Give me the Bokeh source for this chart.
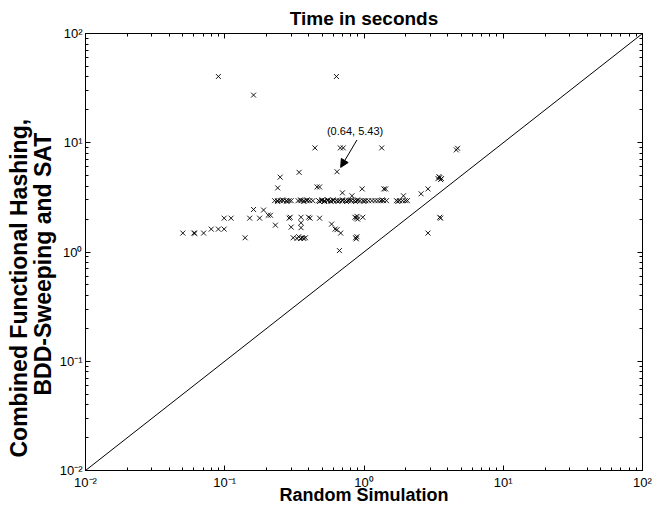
from bokeh.plotting import figure
from bokeh.models import (Range1d, FixedTicker, CustomJSTickFormatter, LogAxis, Title,
                          Arrow, NormalHead, Label, ColumnDataSource)
from bokeh.embed import file_html
from bokeh.resources import INLINE

# ---------------- data ----------------
row_x = [0.228, 0.239, 0.251, 0.263, 0.277, 0.290, 0.300, 0.336, 0.353, 0.370, 0.389, 0.408, 0.429,
         0.473, 0.497, 0.521, 0.548, 0.575, 0.604, 0.634, 0.666, 0.699, 0.734, 0.771, 0.809, 0.850,
         0.892, 0.937, 0.984, 1.03, 1.08, 1.14, 1.20, 1.26, 1.32, 1.38, 1.45, 1.71, 1.80, 1.89, 1.98, 2.05,
         0.24, 0.26, 0.28, 0.35, 0.37, 0.39, 0.48, 0.50, 0.52, 0.55, 0.58, 0.60, 0.65, 0.70, 0.75, 0.80,
         0.87, 0.90, 1.00, 1.35, 1.75]
row_y = [2.95] * 42 + [2.90, 3.00, 2.90, 3.00, 2.90, 3.00, 2.90, 3.00, 2.90, 3.00, 2.90, 3.00,
                       2.90, 3.00, 2.90, 3.00, 2.90, 3.00, 2.90, 3.00, 2.90]

other_x = [0.09, 0.161, 0.634,
           0.444, 0.676, 0.71, 1.34, 4.6, 4.7,
           0.64, 0.342, 0.25, 0.24, 0.46, 0.48, 0.70, 0.82, 0.97, 1.39, 1.43, 1.92, 2.57, 2.88,
           3.4, 3.5, 3.6, 3.45, 3.55,
           3.5, 3.55, 2.88,
           0.050, 0.060, 0.061, 0.0705, 0.080, 0.090, 0.099, 0.099, 0.111, 0.140, 0.151, 0.161, 0.178,
           0.19, 0.205, 0.213, 0.231,
           0.29, 0.295, 0.30, 0.353, 0.353, 0.353, 0.40, 0.41, 0.48,
           0.31, 0.33, 0.34, 0.35, 0.36, 0.37, 0.38,
           0.585, 0.62, 0.64, 0.68, 0.666,
           0.86, 0.88, 0.89, 0.90, 0.98, 0.87, 0.89, 0.88]
other_y = [40.4, 27.3, 40.4,
           8.97, 8.97, 8.97, 8.97, 8.6, 8.9,
           5.43, 5.36, 4.84, 3.86, 3.94, 3.94, 3.48, 3.27, 3.78, 3.78, 3.78, 3.27, 3.41, 3.78,
           4.7, 4.8, 4.7, 4.9, 4.6,
           2.08, 2.04, 1.49,
           1.49, 1.49, 1.48, 1.49, 1.62, 1.62, 1.62, 2.04, 2.04, 1.35, 2.04, 2.45, 2.04,
           2.42, 2.17, 2.17, 1.76,
           2.04, 2.08, 1.69, 2.08, 1.85, 1.67, 2.08, 2.04, 2.04,
           1.35, 1.33, 1.38, 1.33, 1.35, 1.33, 1.35,
           1.80, 1.62, 1.60, 1.49, 1.03,
           2.08, 2.04, 2.12, 2.00, 2.08, 1.35, 1.38, 1.32]

sim_x = row_x + other_x
sat_y = row_y + other_y

diag = [0.01, 100]
major_ticks = [0.01, 0.1, 1, 10, 100]
minor_mult = [2, 3, 4, 5, 6, 7, 8, 9]
minor_ticks = [m * t for t in major_ticks[:-1] for m in minor_mult]

title_text = "Time in seconds"
xlabel_text = "Random Simulation"
ylabel_lines = ["Combined Functional Hashing,", "BDD-Sweeping and SAT"]
annot_text = "(0.64, 5.43)"

FONT = "Liberation Sans"

p = figure(width=653, height=507, x_axis_type="log", y_axis_type="log",
           x_range=Range1d(0.01, 100), y_range=Range1d(0.01, 100),
           output_backend="svg", toolbar_location=None,
           min_border_left=85, min_border_right=11, min_border_top=32, min_border_bottom=37)
p.background_fill_color = "white"
p.border_fill_color = "white"
p.grid.visible = False
p.outline_line_color = "black"
p.outline_line_width = 1

p.title.text = title_text
p.title.align = "center"
p.title.text_font = FONT
p.title.text_font_size = "19px"
p.title.text_font_style = "bold"
p.title.text_color = "black"
p.title.standoff = 10

fmt_code = """
const sup = {'-': '\u207b', '0': '\u2070', '1': '\u00b9', '2': '\u00b2', '3': '\u00b3'};
const e = Math.round(Math.log10(tick));
return '10' + String(e).split('').map(c => sup[c]).join('');
"""
blank_code = "return '';"

ticker = FixedTicker(ticks=major_ticks, minor_ticks=minor_ticks)

for ax in [p.xaxis[0], p.yaxis[0]]:
    ax.ticker = ticker
    ax.formatter = CustomJSTickFormatter(code=fmt_code)
    ax.major_tick_in = 5
    ax.major_tick_out = 0
    ax.minor_tick_in = 3
    ax.minor_tick_out = 0
    ax.axis_line_color = "black"
    ax.major_tick_line_color = "black"
    ax.minor_tick_line_color = "black"
    ax.major_label_text_font = FONT
    ax.major_label_text_font_size = "13px"
    ax.major_label_text_color = "black"
p.xaxis[0].major_label_standoff = 4
p.yaxis[0].major_label_standoff = 3

xa = p.xaxis[0]
xa.axis_label = xlabel_text
xa.axis_label_text_font = FONT
xa.axis_label_text_font_size = "18px"
xa.axis_label_text_font_style = "bold"
xa.axis_label_text_color = "black"
xa.axis_label_standoff = -8

for side in ["right", "above"]:
    ax = LogAxis(ticker=ticker, formatter=CustomJSTickFormatter(code=blank_code),
                 major_tick_in=5, major_tick_out=0, minor_tick_in=3, minor_tick_out=0,
                 major_label_standoff=0, major_label_text_font_size="1px",
                 axis_line_color="black", major_tick_line_color="black",
                 minor_tick_line_color="black")
    p.add_layout(ax, side)

# y-axis title on two lines: inner line first, outer line second
p.add_layout(Title(text=ylabel_lines[1], align="left", offset=75, text_font=FONT,
                   text_font_size="23px", text_font_style="bold", text_color="black",
                   standoff=1), "left")
p.add_layout(Title(text=ylabel_lines[0], align="left", offset=13, text_font=FONT,
                   text_font_size="23px", text_font_style="bold", text_color="black",
                   standoff=-8), "left")

src = ColumnDataSource(dict(x=sim_x, y=sat_y))
p.line(diag, diag, line_color="black", line_width=1)
p.scatter("x", "y", source=src, marker="x", size=7, line_color="black", line_width=0.9)

# annotation of one point
p.add_layout(Arrow(end=NormalHead(size=8, fill_color="black", line_color="black"),
                   x_start=0.89, y_start=10.6, x_end=0.68, y_end=5.95,
                   line_color="black", line_width=1))
p.add_layout(Label(x=0.863, y=12.7, text=annot_text, text_align="center",
                   text_baseline="middle", text_font=FONT, text_font_size="11px",
                   text_color="black"))

open("out.html", "w").write(file_html(p, INLINE))
